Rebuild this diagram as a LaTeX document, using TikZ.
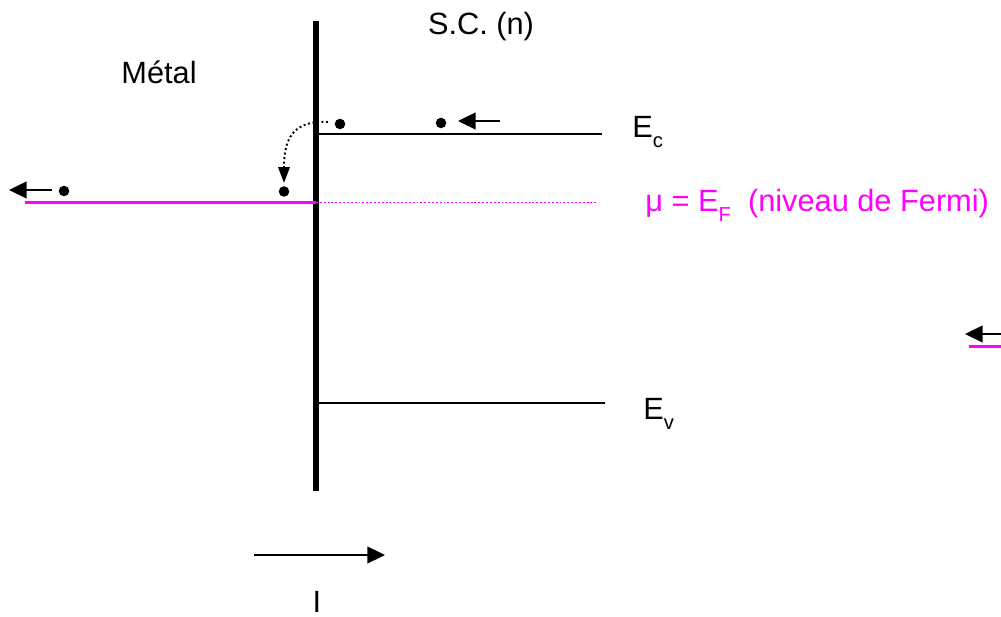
\documentclass[tikz,border=0pt]{standalone}
\usepackage{fontspec}
\setmainfont{Liberation Sans}
\usetikzlibrary{%
	arrows.meta,%
	positioning,%
}
\definecolor{cmagenta}{RGB}{255, 0, 255}
\tikzset{
	>={Triangle[length=10pt,width=9.5pt]},%
	txt/.style={%
			font={\fontsize{17.5}{21}\selectfont},%
			inner sep=0},%
	interface/.style={%
			line width=3pt},%
	band/.style={%
			line width=1.1pt},%
	fermi/.style={%
			cmagenta,%
			line width=1.3pt},%
	fermidots/.style={%
			cmagenta,%
			line width=1.1pt,%
			dash pattern=on 1.1pt off 1.1pt},%
	electron/.style={%
			circle,%
			fill=black,%
			inner sep=0,%
			minimum size=6pt},%
	flow/.style={%
			->,%
			line width=1.1pt},%
	hop/.style={%
			-{Triangle[length=9pt,width=6.5pt]},%
			line width=1.1pt,%
			dash pattern=on 1.1pt off 1.5pt},%
}
\newcommand{\sub}[1]{\raisebox{-0.32em}{\fontsize{11.5}{12}\selectfont #1}}

\begin{document}
\begin{tikzpicture}[x=0.02cm, y=-0.02cm]%
	\useasboundingbox (0,0) rectangle (1001,617);

	% interface metal / semiconductor
	\coordinate (top) at (316,21);
	\coordinate (bot) at (316,491);
	\draw[interface] (top) -- (bot);

	% bands
	\coordinate (ec0) at (316,134);
	\coordinate (ec1) at (602,134);
	\coordinate (ev0) at (316,403);
	\coordinate (ev1) at (605,403);
	\coordinate (mu0) at (25,202.5);
	\coordinate (mu1) at (316,202.5);
	\coordinate (mu2) at (596,202.5);
	\draw[band] (ec0) -- (ec1);
	\draw[band] (ev0) -- (ev1);
	\draw[fermi] (mu0) -- (mu1);
	\draw[fermidots] (mu1) -- (mu2);

	% labels
	\node[txt, anchor=base] (metal) at (159,84) {Métal};
	\node[txt, anchor=base] (sc) at (481,35) {S.C. (n)};
	\node[txt, anchor=base west] (ec) at (632,138) {E\sub{c}};
	\node[txt, anchor=base west] (ev) at (643,420) {E\sub{v}};
	\node[txt, anchor=base west, text=cmagenta] (ef) at (645,212) {μ = E\sub{F}\ \ (niveau de Fermi)};
	\node[txt, anchor=base] (cur) at (317,613) {I};

	% electrons
	\node[electron] (e1) at (340,124) {};
	\node[electron] (e2) at (441,123) {};
	\node[electron] (e3) at (284,191.5) {};
	\node[electron] (e4) at (64,191) {};

	% electron flow
	\coordinate (f1a) at (500,121);
	\coordinate (f1b) at (458,121);
	\coordinate (f2a) at (52,190);
	\coordinate (f2b) at (9,190);
	\coordinate (f3a) at (1010,334);
	\coordinate (f3b) at (965,334);
	\coordinate (f3c) at (969,346.5);
	\coordinate (f3d) at (1010,346.5);
	\draw[flow] (f1a) -- (f1b);
	\draw[flow] (f2a) -- (f2b);
	\draw[flow] (f3a) -- (f3b);
	\draw[fermi] (f3c) -- (f3d);

	% tunnel from the semiconductor to the metal
	\coordinate (hopa) at (328,122);
	\coordinate (hopb) at (284,183);
	\draw[hop] (hopa) .. controls (292,120) and (284,140) .. (hopb);

	% current
	\coordinate (ia) at (254,555);
	\coordinate (ib) at (385,555);
	\draw[flow] (ia) -- (ib);
\end{tikzpicture}
\end{document}
